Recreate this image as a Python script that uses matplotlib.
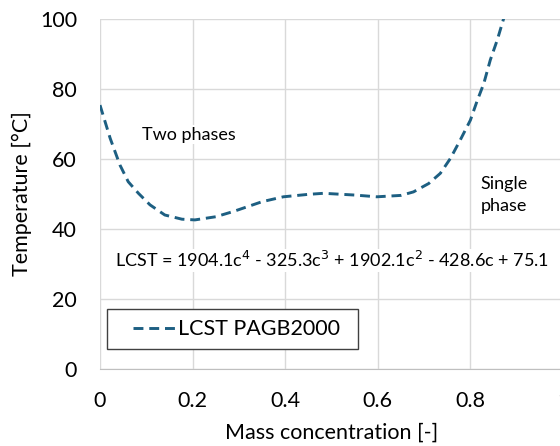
import matplotlib.pyplot as plt
from matplotlib.patches import Rectangle

plt.rcParams['font.family'] = ['Lato', 'DejaVu Sans']

# points
conc = [0.0, 0.022, 0.043, 0.061, 0.083, 0.108, 0.14, 0.177, 0.205, 0.25, 0.288,
        0.35, 0.396, 0.45, 0.483, 0.55, 0.598, 0.65, 0.677, 0.71, 0.735, 0.757,
        0.778, 0.8, 0.814, 0.829, 0.843, 0.858, 0.872, 0.88]
temp = [75.4, 65.9, 58.3, 53.5, 50.2, 46.9, 44.0, 42.8, 42.6, 43.5, 45.0,
        47.8, 49.2, 49.9, 50.2, 49.7, 49.2, 49.6, 50.6, 53.0, 55.9, 60.2,
        65.4, 71.1, 76.4, 81.6, 88.3, 94.0, 100.2, 103.0]

xticks = [0, 0.2, 0.4, 0.6, 0.8, 1]
yticks = [0, 20, 40, 60, 80, 100]

fig = plt.figure(figsize=(5.6, 4.46), dpi=100)
ax = fig.add_axes([100/560, 77/446, 463/560, 350/446])

ax.plot(conc, temp, color='#1D5F82', lw=2.1, linestyle=(0, (3.4, 2.0)),
        label='LCST PAGB2000')

ax.set_xlim(0, 1)
ax.set_ylim(0, 100)
ax.set_xticks(xticks)
ax.set_xticklabels(['0', '0.2', '0.4', '0.6', '0.8', '1'])
ax.set_yticks(yticks)
ax.grid(True, color='#D9D9D9', lw=1)
ax.set_axisbelow(True)
for s in ['top', 'right', 'left']:
    ax.spines[s].set_visible(False)
ax.spines['bottom'].set_color('#BFBFBF')
ax.tick_params(length=0, labelsize=15.5)
ax.tick_params(axis='y', pad=16.5)
ax.tick_params(axis='x', pad=15.5)

ax.set_xlabel('Mass concentration [-]', fontsize=15.5, labelpad=9)
ax.set_ylabel('Temperature [°C]', fontsize=15.5, labelpad=6)

box = dict(facecolor='white', edgecolor='none', pad=1)
ax.text(0.09, 66.9, 'Two phases', fontsize=13, va='center', bbox=box)
ax.text(0.822, 49.6, 'Single\nphase', fontsize=13, va='center',
        linespacing=1.45, bbox=box)
ax.text(0.032, 31.1, 'LCST = 1904.1c$^4$ - 325.3c$^3$ + 1902.1c$^2$ - 428.6c + 75.1',
        fontsize=13, va='center', bbox=box)

# legend frame drawn separately, legend itself has no frame
ax.add_patch(Rectangle((0.015, 0.057), 0.543, 0.114, transform=ax.transAxes,
                       facecolor='white', edgecolor='#404040', lw=1, zorder=4))
leg = ax.legend(loc='center left', bbox_to_anchor=(0.071, 0.114), fontsize=15.5,
                frameon=False, handlelength=2.1, handletextpad=0,
                borderpad=0, borderaxespad=0)
leg.set_zorder(5)

fig.savefig('out.png', dpi=100)
